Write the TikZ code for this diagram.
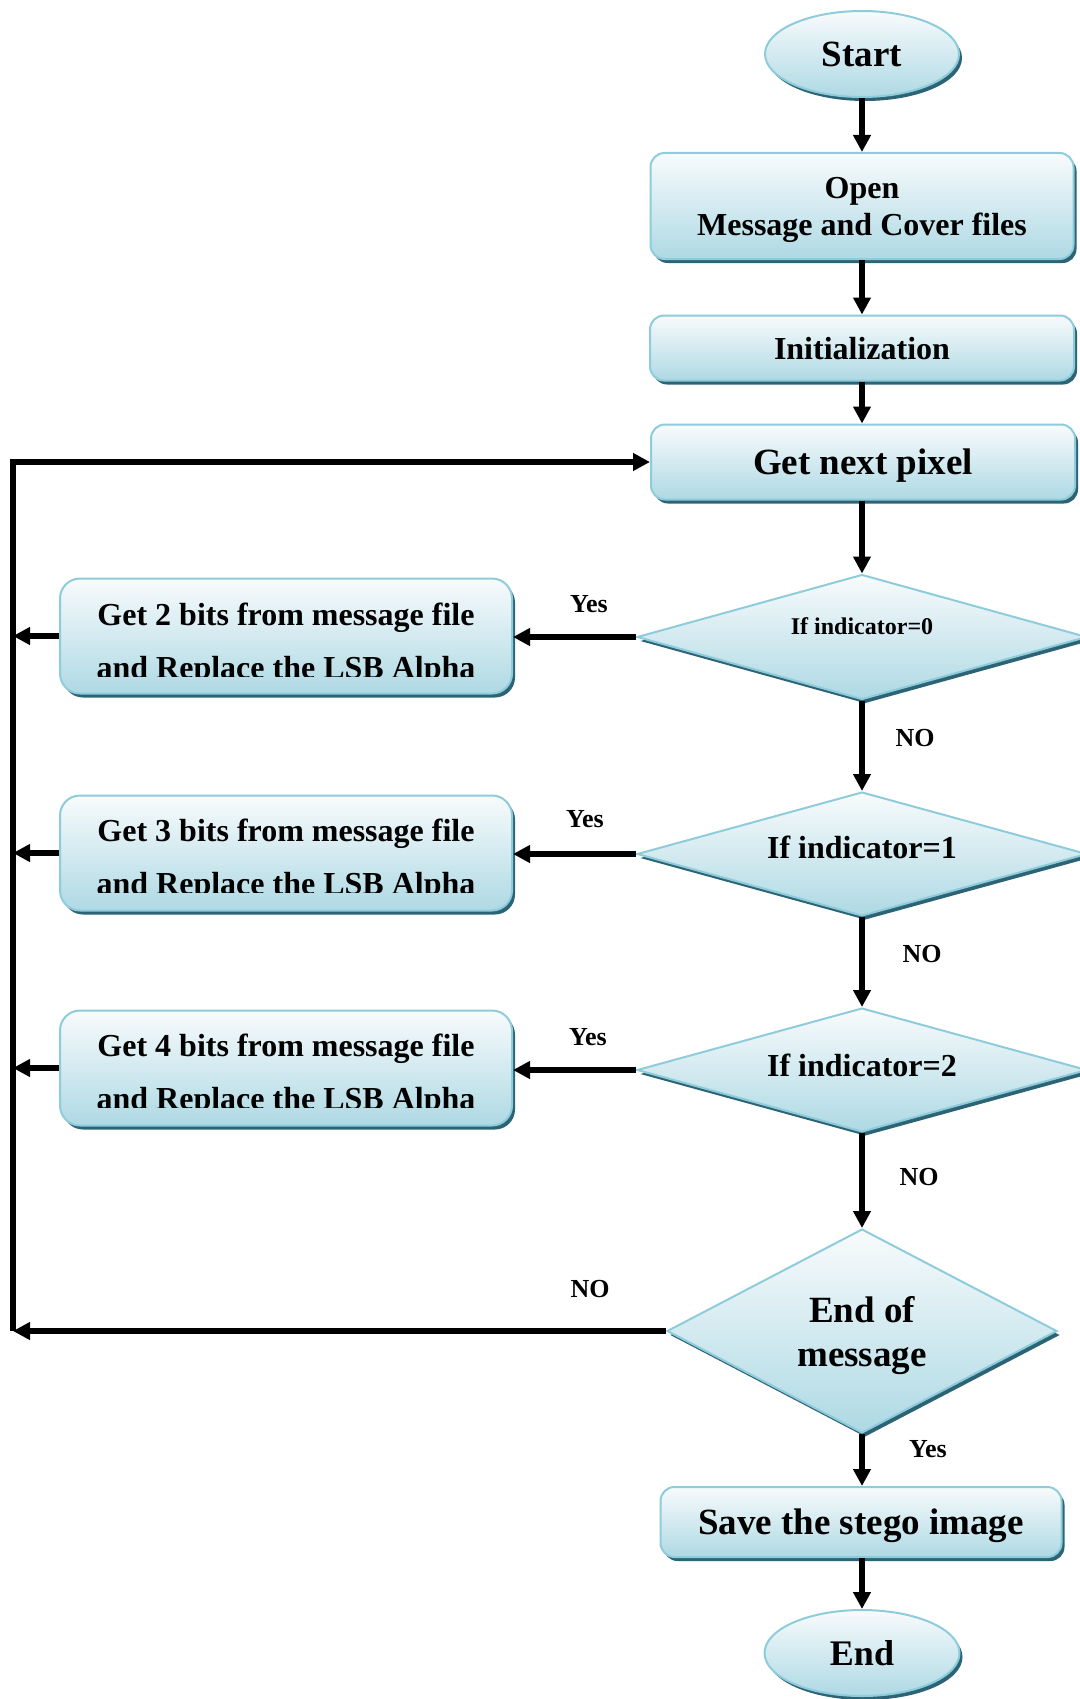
\documentclass[tikz,border=0pt]{standalone}
\usepackage{fontspec}
\setmainfont{Liberation Serif}
\usetikzlibrary{shapes.geometric,shadows,arrows.meta}
\definecolor{topc}{HTML}{F8FBFC}
\definecolor{botc}{HTML}{AED9E4}
\definecolor{bordc}{HTML}{8ECCDB}
\definecolor{shadc}{HTML}{2C6475}
\newcommand{\myfs}[1]{\fontsize{#1}{#1}\selectfont\bfseries}
\begin{document}
\begin{tikzpicture}[x=1pt,y=-1pt,
 shapebase/.style={draw=bordc, line width=2pt, top color=topc, bottom color=botc,
   drop shadow={shadow xshift=3pt,shadow yshift=-4pt,fill=shadc,opacity=1},
   align=center, inner sep=0pt, text depth=0pt},
 procbox/.style={shapebase, rectangle, rounded corners=14pt},
 sidebox/.style={shapebase, rectangle, rounded corners=20pt, minimum width=452pt, minimum height=115pt},
 decision/.style={shapebase, diamond, aspect=2},
 term/.style={shapebase, ellipse},
 conn/.style={line width=5.5pt, line join=miter, -{Triangle[length=17pt,width=17pt]}},
 lbl/.style={font=\myfs{26}, inner sep=0pt},
 dtext/.style={inner sep=0pt, align=center},
 sidetext/.style={font=\fontsize{32}{53}\selectfont\bfseries, align=center, inner sep=0pt},
]
\useasboundingbox (0,0) rectangle (1079,1699);

% main column
\node[term, minimum width=194pt, minimum height=86pt, font=\myfs{37}] (start) at (862,54) {Start};
\node[procbox, minimum width=423pt, minimum height=106pt, font=\fontsize{32}{37}\selectfont\bfseries] (open) at (862,206) {Open\\Message and Cover files};
\node[procbox, minimum width=424pt, minimum height=65pt, font=\myfs{32}] (init) at (862,348) {Initialization};
\node[procbox, minimum width=424pt, minimum height=75pt, font=\myfs{37}] (pix) at (863,462) {Get next pixel};

\node[decision, minimum width=450pt, minimum height=125pt] (d1) at (862,637) {};
\node[dtext, font=\myfs{24}] (d1t) at (862,626) {If indicator=0};
\node[decision, minimum width=450pt, minimum height=124pt] (d2) at (862,854) {};
\node[dtext, font=\myfs{32}] (d2t) at (862,847) {If indicator=1};
\node[decision, minimum width=450pt, minimum height=124pt] (d3) at (862,1070) {};
\node[dtext, font=\myfs{32}] (d3t) at (862,1065) {If indicator=2};
\node[decision, minimum width=390pt, minimum height=204pt, font=\fontsize{37}{44}\selectfont\bfseries] (d4) at (862,1331) {End of\\message};

\node[procbox, minimum width=401pt, minimum height=70pt, font=\myfs{37}] (save) at (861,1522) {Save the stego image};
\node[term, minimum width=195pt, minimum height=86pt, font=\myfs{36}] (end) at (862,1653) {End};

% side boxes
\node[sidebox] (b1) at (286,636) {};
\begin{scope}
\clip (40,560) rectangle (540,676);
\node[sidetext] (b1t) at (286,644) {Get 2 bits from message file\\and Replace the LSB Alpha};
\end{scope}
\node[sidebox] (b2) at (286,853) {};
\begin{scope}
\clip (40,780) rectangle (540,892);
\node[sidetext] (b2t) at (286,860) {Get 3 bits from message file\\and Replace the LSB Alpha};
\end{scope}
\node[sidebox] (b3) at (286,1068) {};
\begin{scope}
\clip (40,990) rectangle (540,1107);
\node[sidetext] (b3t) at (286,1075) {Get 4 bits from message file\\and Replace the LSB Alpha};
\end{scope}

% loop coordinates
\coordinate (lt) at (13,462);
\coordinate (lb) at (13,1331);

% vertical connectors
\draw[conn] (start.south) -- (open.north);
\draw[conn] (open.south) -- (init.north);
\draw[conn] (init.south) -- (init.south |- pix.north);
\draw[conn] (pix.south -| d1.north) -- (d1.north);
\draw[conn] (d1.south) -- (d2.north);
\draw[conn] (d2.south) -- (d3.north);
\draw[conn] (d3.south) -- (d4.north);
\draw[conn] (d4.south) -- (d4.south |- save.north);
\draw[conn] (save.south -| end.north) -- (end.north);

% yes branches
\draw[conn] (d1.west) -- (d1.west -| b1.east);
\draw[conn] (d2.west) -- (d2.west -| b2.east);
\draw[conn] (d3.west) -- (d3.west -| b3.east);

% back to loop line
\draw[conn] (b1.west) -- (b1.west -| lb);
\draw[conn] (b2.west) -- (b2.west -| lb);
\draw[conn] (b3.west) -- (b3.west -| lb);
\draw[conn] (d4.west) -- (lb);
\draw[conn] (lb) -- (lt) -- (lt -| pix.west);

% labels
\node[lbl] (y1) at (589,604) {Yes};
\node[lbl] (y2) at (585,819) {Yes};
\node[lbl] (y3) at (588,1037) {Yes};
\node[lbl] (n1) at (915,738) {NO};
\node[lbl] (n2) at (922,954) {NO};
\node[lbl] (n3) at (919,1177) {NO};
\node[lbl] (n4) at (590,1289) {NO};
\node[lbl] (y4) at (928,1449) {Yes};
\end{tikzpicture}
\end{document}
